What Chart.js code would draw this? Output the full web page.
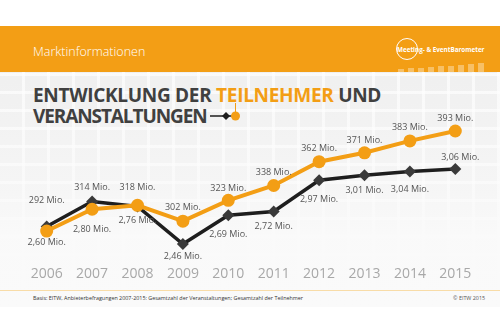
<!DOCTYPE html>
<html><head><meta charset="utf-8">
<script src="https://cdn.jsdelivr.net/npm/chart.js@4/dist/chart.umd.min.js"></script>
<style>
html,body{margin:0;padding:0;background:#fff;width:500px;height:333px;overflow:hidden;font-family:"Open Sans",sans-serif;}
#band{position:absolute;left:0;top:26px;width:500px;height:46px;background:#F39E15;}
#mk{position:absolute;left:33px;top:43px;color:#fff;font-size:12.5px;font-weight:300;}
#slide{position:absolute;left:0;top:72px;width:500px;height:235px;
background:
linear-gradient(180deg,rgba(250,250,250,0.2) 0%,rgba(250,250,250,0.6) 45%,rgba(250,250,250,0.95) 70%,#fafafa 100%),
repeating-linear-gradient(90deg,rgba(255,255,255,0) 0px,rgba(255,255,255,0) 22px,rgba(255,255,255,0.7) 22px,rgba(255,255,255,0.7) 25px),
repeating-linear-gradient(0deg,rgba(255,255,255,0) 0px,rgba(255,255,255,0) 15px,rgba(255,255,255,0.7) 15px,rgba(255,255,255,0.7) 18px),
#ededed;}
#t1,#t2{position:absolute;left:33px;color:#404040;font-weight:700;font-size:19px;white-space:nowrap;letter-spacing:-0.3px;}
#t1{top:82px;} #t2{top:103px;letter-spacing:-1.1px;}
#t1 span{color:#F39E15;}
#foot{position:absolute;left:0;top:290px;width:500px;height:1px;background:#f8dca8;}
#ft{position:absolute;left:33px;top:294px;font-size:5.4px;color:#333;}
#fc{position:absolute;left:453px;top:294px;font-size:5.4px;color:#555;}
#logo{position:absolute;left:396px;top:38px;width:22px;height:22px;border:1.3px solid #fff;border-radius:50%;box-sizing:border-box;}
#lt{position:absolute;left:397px;top:45px;font-size:6.3px;font-weight:700;color:#fff;white-space:nowrap;}
.bar{position:absolute;background:rgba(255,255,255,0.35);width:6px;}
canvas{position:absolute;left:0;top:0;}
</style></head><body>
<div id="band"></div>
<div id="mk">Marktinformationen</div>
<div id="logo"></div>
<div id="lt">Meeting- &amp; EventBarometer</div>
<div id="bars"></div>
<div id="slide"></div>
<div id="t1">ENTWICKLUNG DER <span>TEILNEHMER</span> UND</div>
<div id="t2">VERANSTALTUNGEN</div>
<div id="foot"></div>
<div id="ft">Basis: EITW, Anbieterbefragungen 2007-2015: Gesamtzahl der Veranstaltungen; Gesamtzahl der Teilnehmer</div>
<div id="fc">© EITW 2015</div>
<canvas id="c" width="500" height="333"></canvas>
<script>
const years = ["2006","2007","2008","2009","2010","2011","2012","2013","2014","2015"];
const teilnehmer = [292,314,318,302,323,338,362,371,383,393];          // Mio.
const veranstaltungen = [2.60,2.80,2.76,2.46,2.69,2.72,2.97,3.01,3.04,3.06]; // Mio.

// logo bars
(function(){
  const b=document.getElementById('bars');
  for(let i=0;i<9;i++){
    const d=document.createElement('div');d.className='bar';
    const h=3+i*0.7;
    d.style.left=(398+i*10)+'px';d.style.top=(72-h)+'px';d.style.height=h+'px';
    b.appendChild(d);
  }
})();

const ORANGE='#F39E15', DARK='#1e1e1e';
const offO=[31,22,18,14,12,13,13,12,13,13];
const offB=[16,28,14,12,19,15,19,15,18,-12];

const labelPlugin={
  id:'vlabels',
  afterDatasetsDraw(chart){
    const ctx=chart.ctx;
    const mO=chart.getDatasetMeta(0), mB=chart.getDatasetMeta(1);
    ctx.save();
    ctx.font='9px "Open Sans"';
    ctx.fillStyle='#555';
    ctx.textAlign='center';ctx.textBaseline='middle';
    for(let i=0;i<years.length;i++){
      const pO=mO.data[i], pB=mB.data[i];
      ctx.fillText(teilnehmer[i]+' Mio.', pO.x, pO.y-offO[i]);
      ctx.fillText(veranstaltungen[i].toFixed(2).replace('.',',')+' Mio.', pB.x+(i===9?5:0), pB.y+offB[i]);
    }
    // legend glyph next to title
    ctx.strokeStyle=DARK;ctx.lineWidth=1.5;
    ctx.beginPath();ctx.moveTo(210,116);ctx.lineTo(232,116);ctx.stroke();
    ctx.fillStyle=DARK;
    ctx.beginPath();ctx.moveTo(226,112);ctx.lineTo(230,116);ctx.lineTo(226,120);ctx.lineTo(222,116);ctx.closePath();ctx.fill();
    ctx.strokeStyle=ORANGE;ctx.lineWidth=1;
    ctx.beginPath();ctx.moveTo(235.5,103);ctx.lineTo(235.5,112);ctx.stroke();
    ctx.fillStyle=ORANGE;
    ctx.beginPath();ctx.arc(235.5,116,4.5,0,Math.PI*2);ctx.fill();
    ctx.restore();
  }
};

new Chart(document.getElementById('c'),{
  type:'line',
  data:{labels:years,datasets:[
    {label:'Teilnehmer',data:teilnehmer,yAxisID:'y',borderColor:ORANGE,backgroundColor:ORANGE,borderWidth:4,
     pointRadius:6.5,pointStyle:'circle',pointBorderWidth:0,tension:0},
    {label:'Veranstaltungen',data:veranstaltungen,yAxisID:'y2',borderColor:DARK,backgroundColor:'#3a3a3a',borderWidth:3.5,
     pointRadius:6,pointStyle:'rectRot',pointBorderWidth:0,tension:0}
  ]},
  options:{
    responsive:false,animation:false,
    layout:{padding:{left:24,right:22,top:110,bottom:53}},
    plugins:{legend:{display:false},tooltip:{enabled:false}},
    scales:{
      x:{offset:true,grid:{display:false},border:{display:false},
         ticks:{color:'#a8a8a8',font:{size:14,family:'"Open Sans"'},padding:3},
         afterFit(s){s.height=25;}},
      y:{display:false,min:267.8,max:414.2},
      y2:{display:false,min:2.372,max:3.532}
    }
  },
  plugins:[labelPlugin]
});
</script>
</body></html>
